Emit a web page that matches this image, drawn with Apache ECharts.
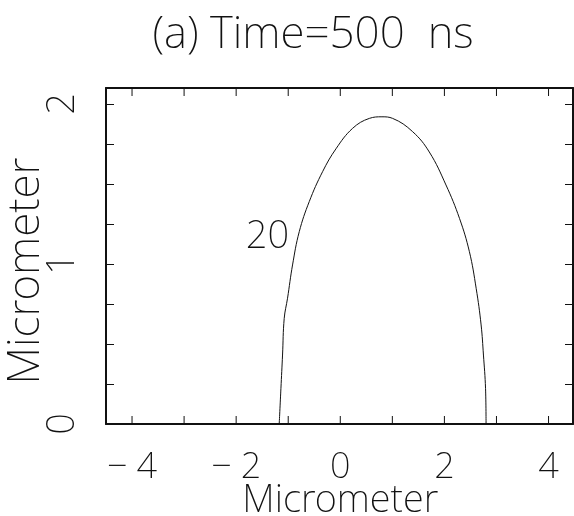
<!DOCTYPE html>
<html>
<head>
<meta charset="utf-8">
<script src="https://cdn.jsdelivr.net/npm/echarts@6/dist/echarts.min.js"></script>
<style>
  html, body { margin: 0; padding: 0; background: #fff; }
  #chart { width: 574px; height: 516px; }
</style>
</head>
<body>
<div id="chart"></div>
<script>
// Contour line (level 20) of the profile, in micrometers
const contourX = [-1.173, -1.14, -1.109, -1.077, -1.013, -0.917, -0.788, -0.596, -0.34, -0.083,
                  0.237, 0.558, 0.80, 1.006, 1.39, 1.71, 2.03, 2.29, 2.48, 2.61, 2.705, 2.75, 2.79, 2.80];
const contourY = [0, 0.223, 0.431, 0.66, 0.786, 0.994, 1.202, 1.39, 1.577, 1.72,
                  1.848, 1.91, 1.92, 1.91, 1.827, 1.70, 1.494, 1.285, 1.077, 0.848, 0.619, 0.431, 0.223, 0];
const contourLevel = '20';
const contourLabelAt = [-1.40, 1.17];

const xTicks = [-4, -3, -2, -1, 0, 1, 2, 3, 4];
const xTickLabels = [-4, -2, 0, 2, 4];
const yTickLabels = [0, 1, 2];

const X_MIN = -4.5, X_MAX = 4.47, Y_MIN = 0, Y_MAX = 2.1;

const FONT = '"Noto Sans", "DejaVu Sans", sans-serif';
const WEIGHT = 200;
const INK = '#111';
const TICK_LEN = 8;

// Plot frame (pixels)
const PLOT = { left: 106, right: 1, top: 88, bottom: 92 };
const pxPerUnit = (574 - PLOT.left - PLOT.right) / (X_MAX - X_MIN);
// Companion grid spanning whole micrometers only, used for the x tick labels and axis name
const LABEL_GRID = {
  left: PLOT.left + (xTicks[0] - X_MIN) * pxPerUnit,
  right: PLOT.right + (X_MAX - xTicks[xTicks.length - 1]) * pxPerUnit,
  top: PLOT.top, bottom: PLOT.bottom
};

const isOneOf = (v, list) => list.some(t => Math.abs(t - v) < 1e-6);
const fmtX = v => (isOneOf(v, xTickLabels) ? (v < 0 ? '\u2212\u2005' + Math.abs(v) : String(v)) : '');
const fmtY = v => (isOneOf(v, yTickLabels) ? String(v) : '');

const tickStyle = { show: true, inside: true, length: TICK_LEN, lineStyle: { color: INK, width: 1 } };
const frameLine = { show: true, onZero: false, lineStyle: { color: INK, width: 2 } };
const hiddenLine = { show: false, onZero: false };

// Short vertical marks at each whole micrometer along the bottom and top edges
function xTickSeries(yValue, offset) {
  return {
    type: 'scatter', xAxisIndex: 0, yAxisIndex: 0,
    data: xTicks.map(v => [v, yValue]),
    symbol: 'rect', symbolSize: [1, TICK_LEN], symbolOffset: [0, offset],
    itemStyle: { color: INK, opacity: 1 },
    clip: false, silent: true, z: 5
  };
}

const chart = echarts.init(document.getElementById('chart'), null, { renderer: 'canvas' });
chart.setOption({
  animation: false,
  backgroundColor: '#fff',
  title: {
    text: '(a) Time=500  ns',
    left: 308, top: 8, textAlign: 'center',
    textStyle: { fontFamily: FONT, fontWeight: WEIGHT, fontSize: 44, color: INK }
  },
  grid: [
    Object.assign({ containLabel: false, outerBoundsMode: 'none' }, PLOT),
    Object.assign({ containLabel: false, outerBoundsMode: 'none' }, LABEL_GRID)
  ],
  xAxis: [{
    gridIndex: 0, type: 'value', min: X_MIN, max: X_MAX, position: 'bottom',
    axisLine: frameLine, axisTick: { show: false }, axisLabel: { show: false }, splitLine: { show: false }
  }, {
    gridIndex: 0, type: 'value', min: X_MIN, max: X_MAX, position: 'top',
    axisLine: frameLine, axisTick: { show: false }, axisLabel: { show: false }, splitLine: { show: false }
  }, {
    gridIndex: 1, type: 'value', min: xTicks[0], max: xTicks[xTicks.length - 1], interval: 1, position: 'bottom',
    name: 'Micrometer', nameLocation: 'middle', nameGap: 58, nameMoveOverlap: false,
    nameTextStyle: { fontFamily: FONT, fontWeight: WEIGHT, fontSize: 38, color: INK },
    axisLine: hiddenLine, axisTick: { show: false }, splitLine: { show: false },
    axisLabel: { formatter: fmtX, margin: 26, fontFamily: FONT, fontWeight: WEIGHT, fontSize: 36, color: INK, showMinLabel: true, showMaxLabel: true }
  }],
  yAxis: [{
    gridIndex: 0, type: 'value', min: Y_MIN, max: Y_MAX, interval: 0.25, position: 'left',
    name: 'Micrometer', nameLocation: 'middle', nameGap: 58, nameMoveOverlap: false,
    nameTextStyle: { fontFamily: FONT, fontWeight: WEIGHT, fontSize: 44, color: INK, padding: [0, 30, 0, 0] },
    axisLine: frameLine, axisTick: tickStyle, splitLine: { show: false },
    axisLabel: { formatter: fmtY, rotate: 90, margin: 24, fontFamily: FONT, fontWeight: WEIGHT, fontSize: 38, color: INK, showMinLabel: true }
  }, {
    gridIndex: 0, type: 'value', min: Y_MIN, max: Y_MAX, interval: 0.25, position: 'right',
    axisLine: frameLine, axisTick: tickStyle, axisLabel: { show: false }, splitLine: { show: false }
  }, {
    gridIndex: 1, type: 'value', min: Y_MIN, max: Y_MAX, show: false
  }],
  series: [
    xTickSeries(Y_MIN, -TICK_LEN / 2),
    xTickSeries(Y_MAX, TICK_LEN / 2),
    {
      type: 'line', xAxisIndex: 0, yAxisIndex: 0,
      data: contourX.map((x, i) => [x, contourY[i]]),
      smooth: 0.4,
      showSymbol: false, symbol: 'none',
      lineStyle: { color: INK, width: 1 }
    }, {
      type: 'scatter', xAxisIndex: 0, yAxisIndex: 0,
      data: [contourLabelAt],
      symbolSize: 1,
      itemStyle: { opacity: 0 },
      label: {
        show: true, position: 'inside', formatter: contourLevel, opacity: 1,
        fontFamily: FONT, fontWeight: WEIGHT, fontSize: 38, color: INK
      }
    }
  ]
});
</script>
</body>
</html>
